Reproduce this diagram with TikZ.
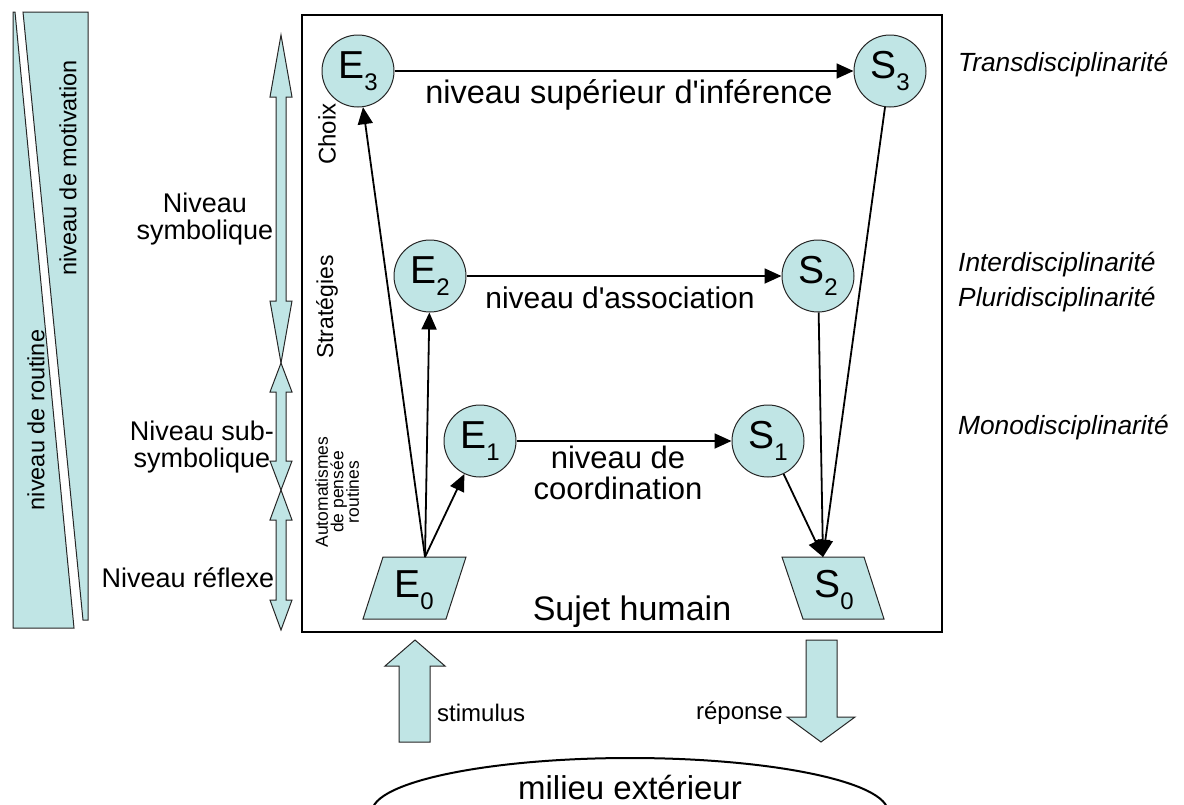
\documentclass[tikz,border=0pt]{standalone}
\usepackage{fontspec}
\setmainfont{Liberation Sans}
\usetikzlibrary{arrows.meta}
\definecolor{fillc}{RGB}{192,229,229}
\newcommand\fs[1]{\fontsize{#1}{#1}\selectfont}
\newcommand\mysub[1]{\raisebox{-0.3em}{\fs{24}#1}}
\newcommand\dblarrow[4]{%
  \draw[shp] (#1,#2) -- ({#1+11},{#2+#4}) -- ({#1+5},{#2+#4}) -- ({#1+5},{#3-#4}) -- ({#1+11},{#3-#4}) -- (#1,#3)
    -- ({#1-11},{#3-#4}) -- ({#1-5},{#3-#4}) -- ({#1-5},{#2+#4}) -- ({#1-11},{#2+#4}) -- cycle;}
\begin{document}
\begin{tikzpicture}[x=1pt,y=-1pt,
  shp/.style={draw=black!85,line width=1pt,fill=fillc},
  circ/.style={circle,draw=black!85,line width=1pt,fill=fillc,minimum size=72pt,inner sep=0pt,font=\fs{39}},
  conn/.style={line width=1.8pt,-{Triangle[length=17pt,width=15pt]}},
  lbl/.style={font=\fs{31},inner sep=0pt},
  side/.style={font=\fs{27},inner sep=0pt,align=center},
  disc/.style={font=\fs{26.3}\itshape,inner sep=0pt,anchor=west},
  vert/.style={rotate=90,inner sep=0pt,align=center}]
\useasboundingbox (0,0) rectangle (1184,804);

% left wedges
\draw[shp] (13,12) -- (15,12) -- (74,628) -- (13,628) -- cycle;
\draw[shp] (23,12) -- (88,12) -- (88,620) -- (83,620) -- cycle;
\node[vert,font=\fs{23.5}] (routine) at (36,420) {niveau de routine};
\node[vert,font=\fs{23.5}] (motiv) at (68,168) {niveau de motivation};

% double arrows
\dblarrow{281}{35}{363}{62}
\dblarrow{281}{363}{490}{29}
\dblarrow{281}{490}{630}{30}

\node[side] (symb) at (205,219) {Niveau\\symbolique};
\node[side] (subsymb) at (202,447) {Niveau sub-\\symbolique};
\node[side] (reflexe) at (188,578) {Niveau réflexe};

% main box
\draw[line width=2.5pt] (302,15) rectangle (942,632);

\node[vert,font=\fs{24}] (choix) at (327,134) {Choix};
\node[vert,font=\fs{23}] (strat) at (327,307) {Stratégies};
\node[vert,font=\fs{17.5},text depth=0pt] (autom) at (337,492) {Automatismes\\[-2pt]de pensée\\[-2pt]routines};

% circles
\node[circ] (E3) at (358,71) {E\mysub{3}};
\node[circ] (S3) at (890,71) {S\mysub{3}};
\node[circ] (E2) at (430,276) {E\mysub{2}};
\node[circ] (S2) at (818,276) {S\mysub{2}};
\node[circ] (E1) at (480,441) {E\mysub{1}};
\node[circ] (S1) at (768,441) {S\mysub{1}};

% parallelograms
\draw[shp] (383,557) -- (466,557) -- (446,619) -- (363,619) -- cycle;
\node[font=\fs{39},inner sep=0pt] (E0) at (414,590) {E\mysub{0}};
\coordinate (E0top) at (425,557);
\draw[shp] (782,557) -- (864,557) -- (884,619) -- (803,619) -- cycle;
\node[font=\fs{39},inner sep=0pt] (S0) at (834,590) {S\mysub{0}};
\coordinate (S0top) at (823,557);

% connectors
\draw[conn] (E3) -- (S3);
\draw[conn] (E2) -- (S2);
\draw[conn] (E1) -- (S1);
\draw[conn] (E0top) -- (E3);
\draw[conn] (E0top) -- (E2);
\draw[conn] (E0top) -- (E1);
\draw[conn] (S3) -- (S0top);
\draw[conn] (S2) -- (S0top);
\draw[conn] (S1) -- (S0top);

\node[lbl,font=\fs{32.5}] (l3) at (629,95) {niveau supérieur d\textquotesingle inférence};
\node[lbl,font=\fs{30}] (l2) at (620,298) {niveau d\textquotesingle association};
\node[lbl,align=center] (l1) at (618,473) {niveau de\\coordination};
\node[font=\fs{34},inner sep=0pt] (sujet) at (632,612) {Sujet humain};

% right labels
\node[disc] (trans) at (958,65) {Transdisciplinarité};
\node[disc] (inter) at (958,265) {Interdisciplinarité};
\node[disc] (pluri) at (958,300) {Pluridisciplinarité};
\node[disc] (mono) at (958,428) {Monodisciplinarité};

% stimulus / réponse
\draw[shp] (415,640) -- (445,666) -- (430,666) -- (430,742) -- (399,742) -- (399,666) -- (385,666) -- cycle;
\draw[shp] (806,640) -- (837,640) -- (837,717) -- (855,717) -- (821,742) -- (787,717) -- (806,717) -- cycle;
\node[font=\fs{24},inner sep=0pt,anchor=west] (stim) at (437,713) {stimulus};
\node[font=\fs{24},inner sep=0pt,anchor=east] (rep) at (783,713) {réponse};

% milieu
\begin{scope}
\clip (0,0) rectangle (1184,804);
\draw[line width=2pt] (630,812) ellipse [x radius=258, y radius=54];
\end{scope}
\node[font=\fs{33},inner sep=0pt] (milieu) at (630,787) {milieu extérieur};
\end{tikzpicture}
\end{document}
